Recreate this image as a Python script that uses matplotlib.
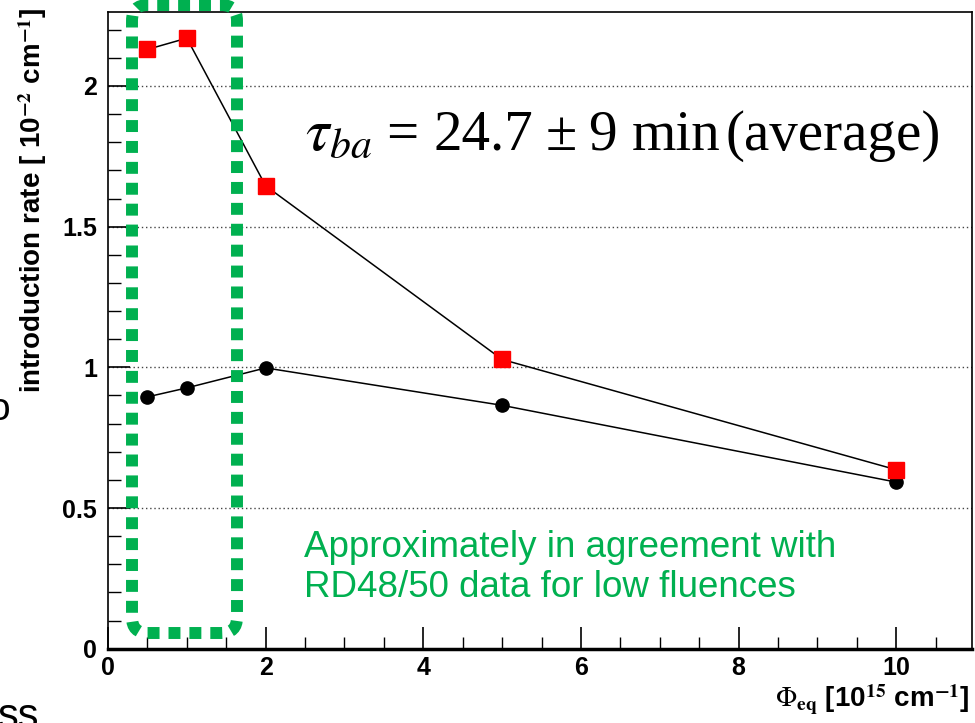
import matplotlib
matplotlib.use('Agg')
import numpy as np
import matplotlib.pyplot as plt
from matplotlib.patches import FancyBboxPatch
from matplotlib.ticker import MultipleLocator

# fluence points [1e15 cm^-1]
fluence = [0.5, 1, 2, 5, 10]
# introduction rates [1e-2 cm^-1]
rate_red = [2.13, 2.17, 1.645, 1.028, 0.636]
rate_black = [0.895, 0.927, 0.998, 0.865, 0.592]

yticks = [0, 0.5, 1, 1.5, 2]
xticks = [0, 2, 4, 6, 8, 10]

plt.rcParams['font.family'] = ['Liberation Sans', 'DejaVu Sans']
plt.rcParams['mathtext.fontset'] = 'stix'

W, H = 975, 723
fig = plt.figure(figsize=(W / 100, H / 100), dpi=100)
ax = fig.add_axes([108 / W, (H - 648.7) / H, (972 - 108) / W, (648.7 - 12) / H])

ax.plot(fluence, rate_black, color='black', lw=1.1, marker='o', ms=9.5,
        mfc='black', mec='black', zorder=3)
ax.plot(fluence, rate_red, color='black', lw=1.1, marker='s', ms=11.5,
        mfc='red', mec='red', zorder=3)

ax.set_xlim(0, 10.96)
ax.set_ylim(0, 2.263)
ax.set_xticks(xticks)
ax.set_yticks(yticks)
ax.set_yticklabels(['0', '0.5', '1', '1.5', '2'])
ax.xaxis.set_minor_locator(MultipleLocator(0.5))
ax.yaxis.set_minor_locator(MultipleLocator(0.1))
ax.tick_params(axis='both', which='major', direction='in', length=16, width=1.2,
               labelsize=18)
ax.tick_params(axis='both', which='minor', direction='in', length=9, width=1.0)
ax.tick_params(axis='x', pad=5)
ax.tick_params(axis='y', pad=8)
for lbl in ax.get_xticklabels() + ax.get_yticklabels():
    lbl.set_fontweight('bold')

ax.grid(axis='y', color='#444444', linestyle=(0, (1, 2)), linewidth=1.0)
for s in ['left', 'top', 'right']:
    ax.spines[s].set_linewidth(1.2)
ax.spines['bottom'].set_linewidth(2.5)

ax.set_ylabel(r'introduction rate [ 10$^{\mathbf{-2}}$ cm$^{\mathbf{-1}}$]',
              fontsize=20, fontweight='bold')
ax.yaxis.set_label_coords(-0.068, 0.705)

fig.text(970 / W, (H - 700) / H,
         r'$\Phi_{\mathbf{eq}}$ [10$^{\mathbf{15}}$ cm$^{\mathbf{-1}}$]',
         fontsize=20, fontweight='bold', ha='right', va='center')

# lifetime annotation, set piece by piece in a serif face
base = (H - 150) / H
fig.text(305 / W, base, r'$\tau_{ba}$', fontsize=43, ha='left', va='baseline')
tau_parts = ['=', '24.7', '±', '9', 'min', '(average)']
tau_x = [386, 433, 546, 588, 632, 726]
for part, px in zip(tau_parts, tau_x):
    fig.text(px / W, base, part, family='Liberation Serif', fontsize=41,
             ha='left', va='baseline')

fig.text(304 / W, (H - 597) / H,
         'Approximately in agreement with\nRD48/50 data for low fluences',
         fontsize=26.5, color='#00B050', ha='left', va='baseline',
         linespacing=1.2)

# dotted frame around the low-fluence points
x0, x1 = 132 / W, 237 / W
y0, y1 = (H - 633) / H, (H - 5) / H
box = FancyBboxPatch((x0, y0), x1 - x0, y1 - y0, transform=fig.transFigure,
                     boxstyle='round,pad=0,rounding_size=0.016',
                     mutation_aspect=W / H, fill=False, edgecolor='#00B050',
                     linewidth=8.6, linestyle=(0, (1, 0.75)), capstyle='butt',
                     zorder=5)
fig.patches.append(box)

# slide text clipped at the edge
fig.text(-12 / W, (H - 410) / H, 'o', fontsize=28, ha='left', va='center')
fig.text(-2 / W, (H - 728) / H, 'ss', fontsize=30, ha='left', va='baseline')

fig.savefig('out.png', dpi=100)
